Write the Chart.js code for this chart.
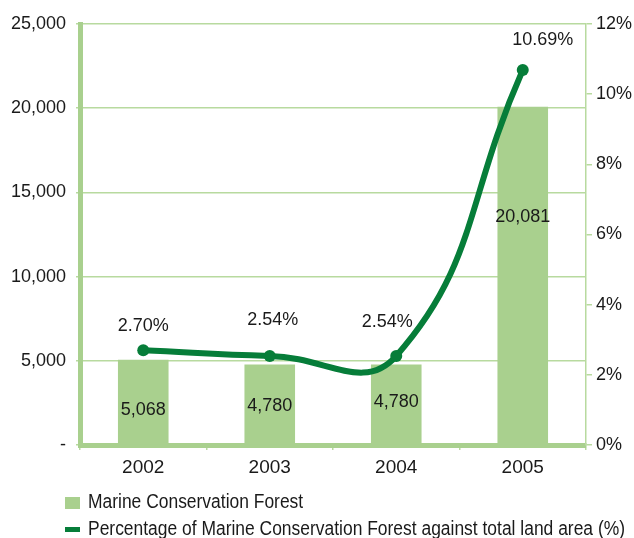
<!DOCTYPE html>
<html>
<head>
<meta charset="utf-8">
<title>Marine Conservation Forest</title>
<script src="https://cdn.jsdelivr.net/npm/chart.js@4.4.1/dist/chart.umd.min.js"></script>
<style>
  html, body { margin: 0; padding: 0; background: #ffffff; }
  #wrap { width: 634px; height: 538px; position: relative; }
</style>
</head>
<body>
<div id="wrap"><canvas id="chart" width="634" height="538"></canvas></div>
<script>
// Marine conservation forest area and its share of total land area
const years = ['2002', '2003', '2004', '2005'];
const forestArea = [5068, 4780, 4780, 20081];
const forestShare = [2.70, 2.54, 2.54, 10.69];
const areaTicks = [0, 5000, 10000, 15000, 20000, 25000];
const shareTicks = [0, 2, 4, 6, 8, 10, 12];

const LIGHT = '#a9d08e';
const GRID = '#b8da9f';
const DARK = '#067d39';
const TEXT = '#1a1a1a';
const FONT = "'Liberation Sans', Arial, sans-serif";

// nudges for the value labels, in pixels
const barLabelShift = [8, 2, -2, -59];
const shareLabelShift = [[0, -24], [3, -36], [-9, -34], [20, -30]];

const valueLabels = {
  id: 'valueLabels',
  afterDatasetsDraw(chart) {
    const ctx = chart.ctx;
    ctx.save();
    ctx.fillStyle = TEXT;
    ctx.font = '18px ' + FONT;
    ctx.textAlign = 'center';
    ctx.textBaseline = 'middle';
    const bars = chart.getDatasetMeta(0).data;
    bars.forEach((bar, i) => {
      const y = (bar.y + bar.base) / 2 + barLabelShift[i];
      ctx.fillText(forestArea[i].toLocaleString('en-US'), bar.x, y);
    });
    const pts = chart.getDatasetMeta(1).data;
    pts.forEach((p, i) => {
      const s = shareLabelShift[i];
      ctx.fillText(forestShare[i].toFixed(2) + '%', p.x + s[0], p.y + s[1]);
    });
    ctx.restore();
  }
};

// legend under the axis, set in a condensed face
const bottomLegend = {
  id: 'bottomLegend',
  afterDraw(chart) {
    const ctx = chart.ctx;
    const ds = chart.data.datasets;
    ctx.save();
    ctx.font = '20px ' + FONT;
    ctx.textBaseline = 'middle';
    ctx.textAlign = 'left';
    const squeeze = 537 / ctx.measureText(ds[1].label).width;
    const rows = [
      { y: 502, label: ds[0].label },
      { y: 529, label: ds[1].label }
    ];
    ctx.fillStyle = ds[0].backgroundColor;
    ctx.fillRect(65, 497, 15, 12);
    ctx.fillStyle = ds[1].borderColor;
    ctx.fillRect(65, 527, 15, 5);
    ctx.fillStyle = TEXT;
    rows.forEach(r => {
      ctx.save();
      ctx.translate(88, r.y);
      ctx.scale(squeeze, 1);
      ctx.fillText(r.label, 0, 0);
      ctx.restore();
    });
    ctx.restore();
  }
};

new Chart(document.getElementById('chart'), {
  data: {
    labels: years,
    datasets: [
      {
        type: 'bar',
        label: 'Marine Conservation Forest',
        data: forestArea,
        backgroundColor: LIGHT,
        borderWidth: 0,
        barPercentage: 0.4,
        categoryPercentage: 1.0,
        yAxisID: 'y',
        order: 2
      },
      {
        type: 'line',
        label: 'Percentage of Marine Conservation Forest against total land area (%)',
        data: forestShare,
        borderColor: DARK,
        backgroundColor: DARK,
        borderWidth: 6,
        pointRadius: 6,
        pointHoverRadius: 6,
        pointBackgroundColor: DARK,
        pointBorderWidth: 0,
        tension: 0.45,
        yAxisID: 'y1',
        order: 1
      }
    ]
  },
  options: {
    responsive: false,
    animation: false,
    events: [],
    layout: { padding: { top: 24, bottom: 53, left: 0, right: 0 } },
    plugins: {
      legend: { display: false },
      tooltip: { enabled: false }
    },
    scales: {
      x: {
        offset: true,
        grid: {
          display: true,
          offset: true,
          drawOnChartArea: false,
          color: GRID,
          lineWidth: 1.5,
          tickLength: 5
        },
        border: { color: LIGHT, width: 5 },
        ticks: {
          color: TEXT,
          font: { family: FONT, size: 19 },
          padding: 6
        },
        afterFit(scale) { scale.height = 40; }
      },
      y: {
        position: 'left',
        min: 0,
        max: 25000,
        afterBuildTicks(scale) { scale.ticks = areaTicks.map(v => ({ value: v })); },
        grid: {
          color: GRID,
          lineWidth: 1.5,
          tickLength: 4
        },
        border: { color: LIGHT, width: 5 },
        ticks: {
          color: TEXT,
          font: { family: FONT, size: 18 },
          padding: 10,
          callback: v => v === 0 ? '-' : v.toLocaleString('en-US')
        },
        afterFit(scale) { scale.width = 80; }
      },
      y1: {
        position: 'right',
        min: 0,
        max: 12,
        afterBuildTicks(scale) { scale.ticks = shareTicks.map(v => ({ value: v })); },
        grid: {
          drawOnChartArea: false,
          color: GRID,
          lineWidth: 1.5,
          tickLength: 6
        },
        border: { color: GRID, width: 1.5 },
        ticks: {
          color: TEXT,
          font: { family: FONT, size: 18 },
          padding: 4,
          callback: v => v + '%'
        },
        afterFit(scale) { scale.width = 48; }
      }
    }
  },
  plugins: [valueLabels, bottomLegend]
});
</script>
</body>
</html>
